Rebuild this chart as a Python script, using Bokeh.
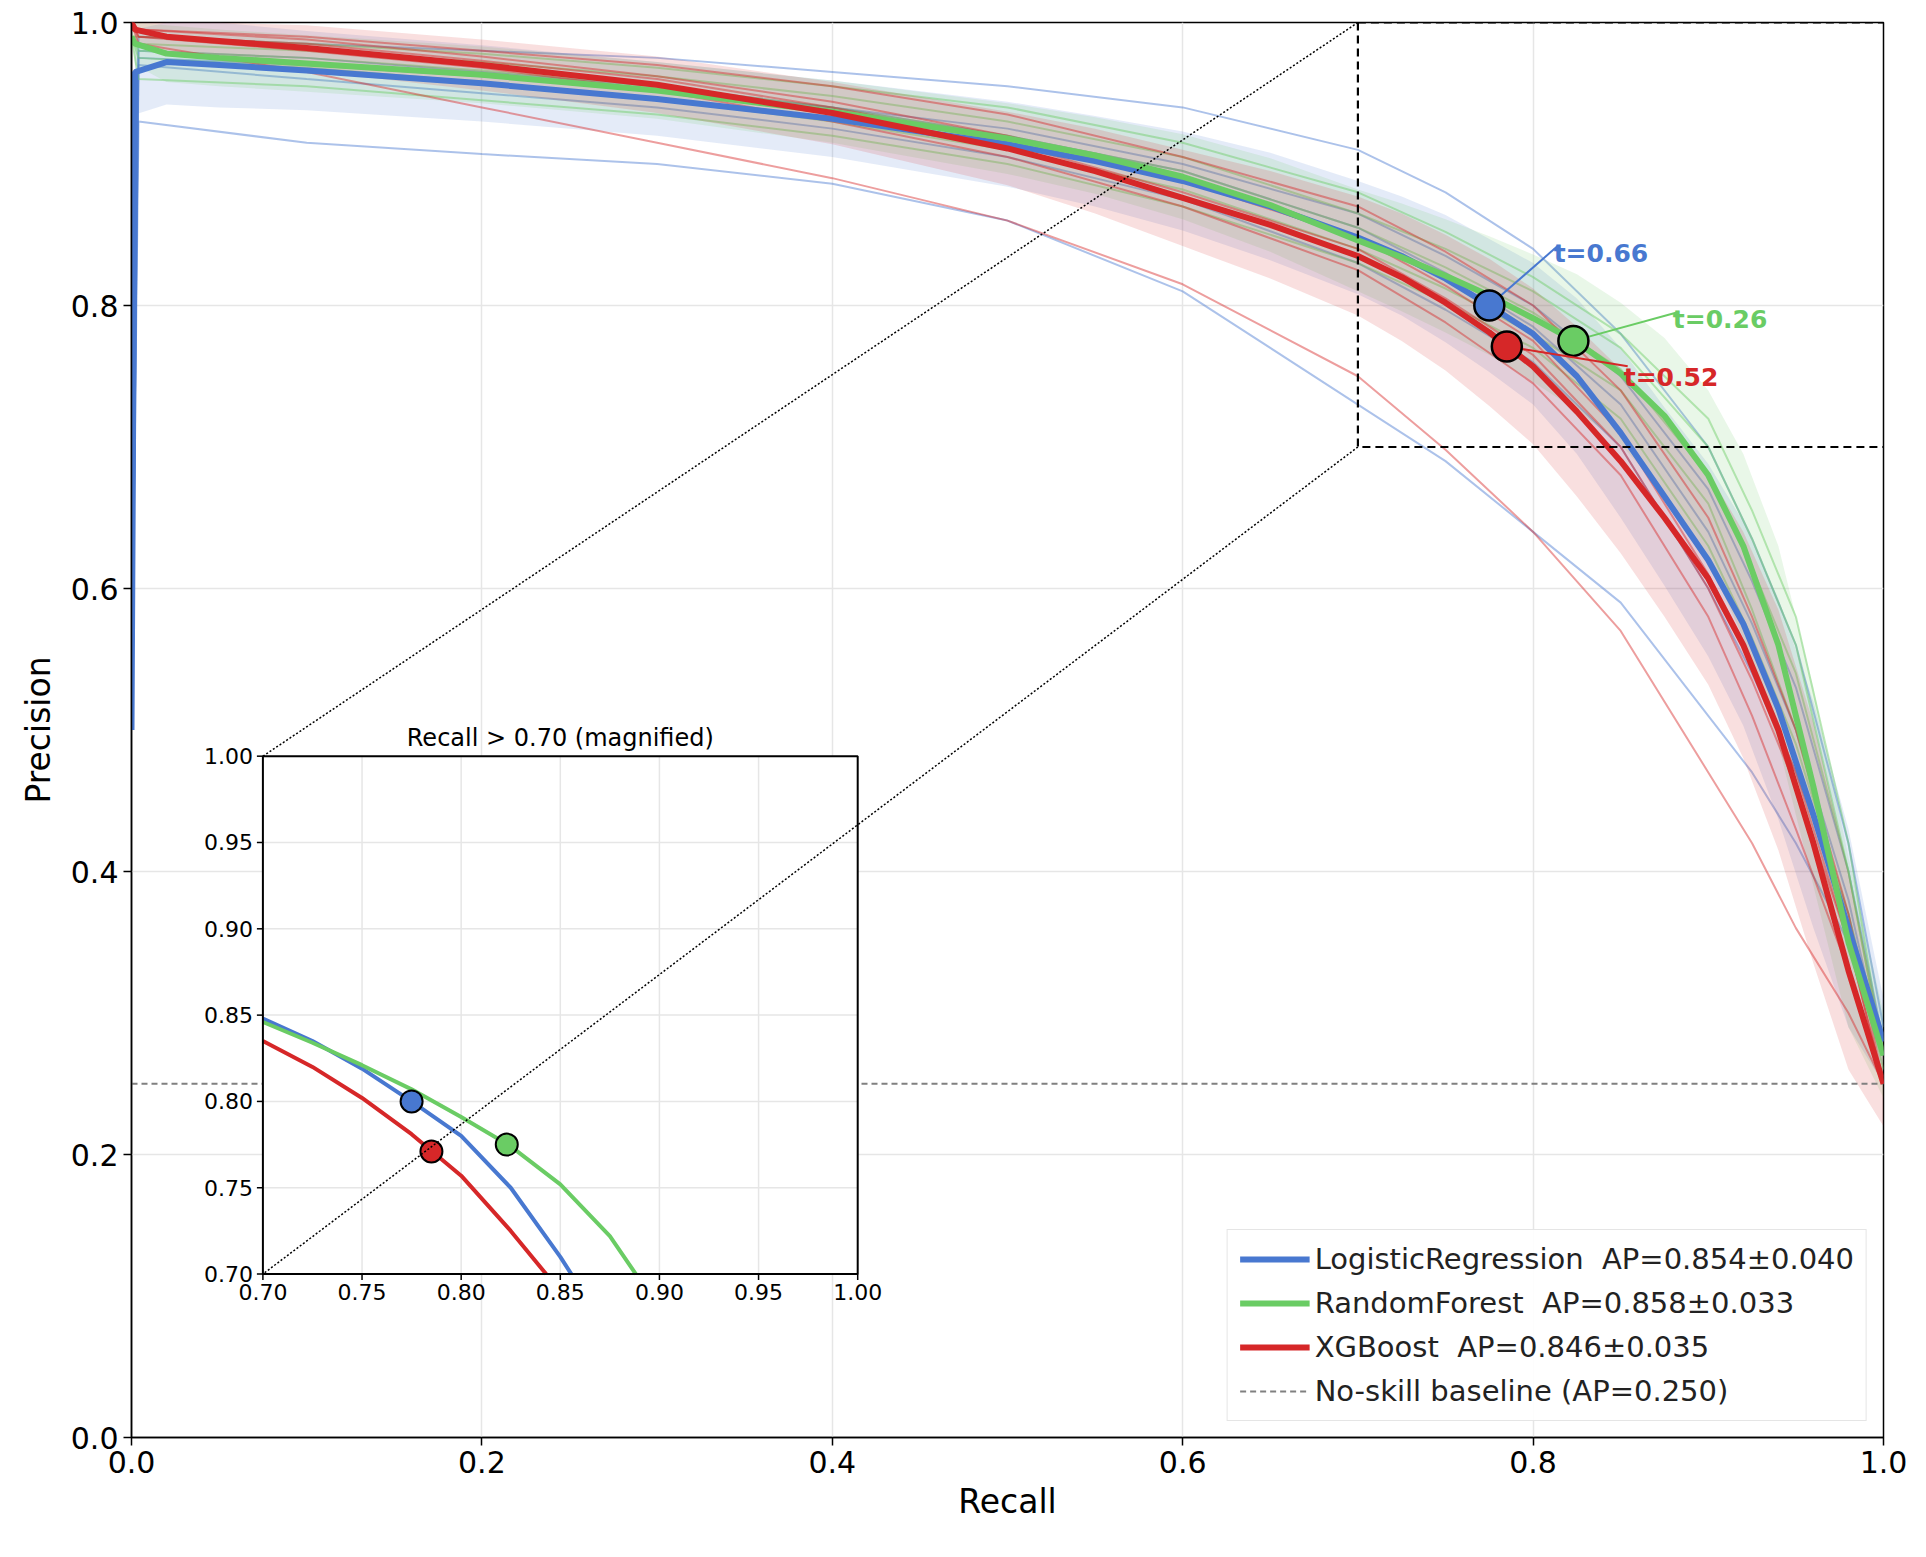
import numpy as np
from bokeh.plotting import figure
from bokeh.models import Legend, LegendItem, FixedTicker, PrintfTickFormatter
from bokeh.core.properties import value
from bokeh.embed import file_html
from bokeh.resources import INLINE

# ---------------- data ----------------
recall = [0, 0.002, 0.02, 0.05, 0.1, 0.2, 0.3, 0.4, 0.5, 0.55, 0.6, 0.65, 0.7, 0.725, 0.75,
          0.775, 0.8, 0.825, 0.85, 0.875, 0.9, 0.92, 0.94, 0.96, 0.98, 0.99, 1.0]
lr_mean = [0.5, 0.965, 0.972, 0.970, 0.966, 0.957, 0.946, 0.932, 0.914, 0.902, 0.888, 0.870, 0.848,
           0.835, 0.819, 0.800, 0.780, 0.750, 0.710, 0.665, 0.62, 0.575, 0.515, 0.44, 0.36, 0.32, 0.28]
rf_mean = [0.99, 0.985, 0.978, 0.975, 0.971, 0.963, 0.952, 0.937, 0.918, 0.906, 0.891, 0.871, 0.846,
           0.834, 0.821, 0.807, 0.791, 0.774, 0.752, 0.722, 0.68, 0.63, 0.56, 0.46, 0.35, 0.31, 0.27]
xgb_mean = [1.0, 0.995, 0.99, 0.987, 0.982, 0.97, 0.956, 0.936, 0.911, 0.895, 0.876, 0.857, 0.835,
            0.82, 0.802, 0.781, 0.757, 0.725, 0.69, 0.65, 0.607, 0.56, 0.5, 0.42, 0.33, 0.29, 0.25]
lr_std = [0, 0.03, 0.03, 0.03, 0.028, 0.027, 0.026, 0.027, 0.03, 0.032, 0.035, 0.038, 0.04, 0.042,
          0.045, 0.047, 0.05, 0.055, 0.06, 0.063, 0.068, 0.072, 0.078, 0.08, 0.07, 0.05, 0.03]
rf_std = [0, 0.015, 0.02, 0.02, 0.02, 0.02, 0.02, 0.022, 0.025, 0.027, 0.03, 0.033, 0.036, 0.038,
          0.04, 0.042, 0.045, 0.048, 0.05, 0.055, 0.06, 0.065, 0.07, 0.07, 0.06, 0.045, 0.03]
xgb_std = [0, 0.01, 0.012, 0.014, 0.016, 0.018, 0.02, 0.022, 0.026, 0.03, 0.034, 0.038, 0.042, 0.045,
           0.048, 0.052, 0.055, 0.06, 0.065, 0.07, 0.075, 0.08, 0.085, 0.085, 0.07, 0.05, 0.03]

fold_recall = [0, 0.004, 0.1, 0.2, 0.3, 0.4, 0.5, 0.6, 0.7, 0.75, 0.8, 0.85, 0.9, 0.925, 0.95, 0.98, 1.0]
lr_folds = [
    [0.5, 0.93, 0.915, 0.907, 0.9, 0.886, 0.86, 0.81, 0.73, 0.69, 0.64, 0.59, 0.51, 0.47, 0.42, 0.35, 0.27],
    [0.5, 0.99, 0.985, 0.98, 0.975, 0.965, 0.955, 0.94, 0.91, 0.88, 0.84, 0.78, 0.7, 0.635, 0.56, 0.42, 0.29],
    [0.5, 0.975, 0.97, 0.962, 0.952, 0.94, 0.92, 0.895, 0.855, 0.823, 0.785, 0.73, 0.64, 0.575, 0.5, 0.38, 0.27],
    [0.5, 0.98, 0.975, 0.965, 0.955, 0.94, 0.925, 0.9, 0.865, 0.835, 0.8, 0.75, 0.67, 0.605, 0.53, 0.4, 0.28],
    [0.5, 0.97, 0.96, 0.95, 0.94, 0.925, 0.905, 0.875, 0.83, 0.797, 0.76, 0.7, 0.6, 0.54, 0.47, 0.37, 0.27],
]
rf_folds = [
    [0.99, 0.96, 0.955, 0.945, 0.935, 0.92, 0.9, 0.87, 0.83, 0.802, 0.77, 0.72, 0.63, 0.565, 0.49, 0.37, 0.27],
    [0.99, 0.99, 0.985, 0.978, 0.968, 0.955, 0.94, 0.915, 0.88, 0.852, 0.82, 0.78, 0.72, 0.655, 0.58, 0.42, 0.27],
    [0.99, 0.98, 0.975, 0.966, 0.955, 0.94, 0.92, 0.895, 0.855, 0.827, 0.795, 0.755, 0.68, 0.615, 0.54, 0.4, 0.27],
    [0.99, 0.975, 0.968, 0.958, 0.946, 0.93, 0.91, 0.882, 0.84, 0.812, 0.78, 0.74, 0.66, 0.585, 0.5, 0.36, 0.26],
    [0.99, 0.985, 0.98, 0.972, 0.962, 0.948, 0.93, 0.905, 0.865, 0.84, 0.81, 0.77, 0.7, 0.635, 0.56, 0.4, 0.27],
]
xgb_folds = [
    [1.0, 0.985, 0.965, 0.94, 0.915, 0.89, 0.86, 0.815, 0.75, 0.698, 0.64, 0.57, 0.47, 0.42, 0.36, 0.3, 0.25],
    [1.0, 0.995, 0.99, 0.98, 0.97, 0.955, 0.935, 0.905, 0.87, 0.838, 0.8, 0.74, 0.65, 0.58, 0.5, 0.37, 0.25],
    [1.0, 0.99, 0.985, 0.973, 0.96, 0.94, 0.915, 0.88, 0.84, 0.805, 0.765, 0.7, 0.6, 0.535, 0.46, 0.35, 0.25],
    [1.0, 0.995, 0.988, 0.976, 0.962, 0.944, 0.92, 0.888, 0.848, 0.814, 0.775, 0.71, 0.61, 0.545, 0.47, 0.35, 0.25],
    [1.0, 0.99, 0.98, 0.968, 0.952, 0.93, 0.905, 0.87, 0.825, 0.788, 0.745, 0.68, 0.58, 0.51, 0.43, 0.33, 0.25],
]
model_names = ["LogisticRegression", "RandomForest", "XGBoost"]
ap_mean = [0.854, 0.858, 0.846]
ap_std = [0.040, 0.033, 0.035]
op_recall = [0.775, 0.823, 0.785]
op_precision = [0.800, 0.775, 0.771]
op_threshold = [0.66, 0.26, 0.52]
label_pos = [(0.814, 0.837), (0.882, 0.79), (0.854, 0.749)]
baseline = 0.25
main_ticks = [0.0, 0.2, 0.4, 0.6, 0.8, 1.0]
inset_ticks = [0.70, 0.75, 0.80, 0.85, 0.90, 0.95, 1.00]
inset_title = "Recall > 0.70 (magnified)"

colors = ["#4878d0", "#6acc64", "#d62728"]
means = [lr_mean, rf_mean, xgb_mean]
stds = [lr_std, rf_std, xgb_std]
folds = [lr_folds, rf_folds, xgb_folds]
FONT = "DejaVu Sans"

FW, FH = 1752, 1415
p = figure(frame_width=FW, frame_height=FH, output_backend="svg", toolbar_location=None,
           x_range=(0, 1), y_range=(0, 1), min_border_left=131, min_border_top=22,
           min_border_bottom=104, min_border_right=27)
p.outline_line_color = "black"
p.outline_line_width = 1.5
for ax in (p.xaxis, p.yaxis):
    ax.ticker = FixedTicker(ticks=main_ticks)
    ax.formatter = PrintfTickFormatter(format="%.1f")
    ax.major_label_text_font_size = "30px"
    ax.major_label_text_font = FONT
    ax.major_label_text_color = "black"
    ax.axis_label_text_font_size = "33px"
    ax.axis_label_text_font = FONT
    ax.axis_label_text_font_style = "normal"
    ax.axis_label_text_color = "black"
    ax.minor_tick_line_color = None
    ax.major_tick_out = 8
    ax.major_tick_in = 0
    ax.axis_line_width = 1.5
    ax.major_tick_line_width = 1.5
p.xaxis.axis_label = "Recall"
p.yaxis.axis_label = "Precision"
p.xaxis.axis_label_standoff = 6
p.yaxis.axis_label_standoff = 10
p.grid.grid_line_color = "#e6e6e6"
p.grid.grid_line_width = 1.5

R = np.array(recall)
for c, m, s, fl in zip(colors, means, stds, folds):
    m = np.array(m); s = np.array(s)
    p.varea(x=R, y1=np.clip(m - s, 0, 1), y2=np.clip(m + s, 0, 1), fill_color=c, fill_alpha=0.15)
    for f in fl:
        p.line(fold_recall, f, line_color=c, line_width=2, line_alpha=0.45)

base_r = p.line([0, 1], [baseline, baseline], line_color="gray", line_dash="6 4", line_width=1.8)

mean_renderers = []
for c, m in zip(colors, means):
    mean_renderers.append(p.line(recall, m, line_color=c, line_width=6))

# zoom box
p.line([0.7, 0.7, 1.0], [1.0, 0.7, 0.7], line_color="black", line_dash="8 5", line_width=2.2)
p.line([0.7, 1.0], [1.0, 1.0], line_color="black", line_dash="8 5", line_width=2.2)

# operating points
for c, r, pr, t, (lx, ly) in zip(colors, op_recall, op_precision, op_threshold, label_pos):
    p.line([r, lx], [pr, ly + 0.005 if ly > pr else ly + 0.008], line_color=c, line_width=2)
    p.scatter([r], [pr], size=30, fill_color=c, line_color="black", line_width=2.5)
    p.text([lx], [ly], text=[f"t={t:.2f}"], text_color=c, text_font=value(FONT),
           text_font_style="bold", text_font_size="25px", text_baseline="middle", text_align="left",
           x_offset=-4)

# ---------------- inset ----------------
X0, X1, Y0, Y1 = 0.075, 0.4145, 0.1155, 0.4815
def ix(r):
    return X0 + (np.asarray(r) - 0.7) / 0.3 * (X1 - X0)
def iy(v):
    return Y0 + (np.asarray(v) - 0.7) / 0.3 * (Y1 - Y0)

p.quad(left=X0, right=X1, bottom=Y0, top=Y1, fill_color="white", line_color=None)
for t in inset_ticks[1:-1]:
    p.line([ix(t), ix(t)], [Y0, Y1], line_color="#e6e6e6", line_width=1.5)
    p.line([X0, X1], [iy(t), iy(t)], line_color="#e6e6e6", line_width=1.5)

for c, m in zip(colors, means):
    xs, ys = [], []
    for i in range(len(recall)):
        if recall[i] >= 0.7 and m[i] >= 0.7:
            xs.append(recall[i]); ys.append(m[i])
        elif recall[i] >= 0.7 and m[i] < 0.7 and xs:
            r0, p0 = recall[i - 1], m[i - 1]
            fr = (p0 - 0.7) / (p0 - m[i])
            xs.append(r0 + fr * (recall[i] - r0)); ys.append(0.7)
            break
    p.line(ix(xs), iy(ys), line_color=c, line_width=4)
for c, r, pr in zip(colors, op_recall, op_precision):
    p.scatter([ix(r)], [iy(pr)], size=22, fill_color=c, line_color="black", line_width=2)

p.quad(left=X0, right=X1, bottom=Y0, top=Y1, fill_color=None, line_color="black", line_width=2)
tx = 6 / FW
ty = 6 / FH
for t in inset_ticks:
    p.line([ix(t), ix(t)], [Y0, Y0 - ty], line_color="black", line_width=1.5)
    p.line([X0, X0 - tx], [iy(t), iy(t)], line_color="black", line_width=1.5)
p.text(ix(inset_ticks), [Y0] * 7, text=[f"{t:.2f}" for t in inset_ticks], text_font=value(FONT),
       text_font_size="22px", text_align="center", text_baseline="top", y_offset=10, text_color="black")
p.text([X0] * 7, iy(inset_ticks), text=[f"{t:.2f}" for t in inset_ticks], text_font=value(FONT),
       text_font_size="22px", text_align="right", text_baseline="middle", x_offset=-10, text_color="black")
p.text([(X0 + X1) / 2], [Y1], text=[inset_title], text_font=value(FONT), text_font_size="24px",
       text_align="center", text_baseline="bottom", y_offset=-4, text_color="black")

# connectors
p.line([0.7, X0], [1.0, Y1], line_color="black", line_dash="2 2", line_width=1.5)
p.line([0.7, X0], [0.7, Y0], line_color="black", line_dash="2 2", line_width=1.5)

items = [LegendItem(label=f"{n}  AP={a:.3f}±{s:.3f}", renderers=[r])
         for n, a, s, r in zip(model_names, ap_mean, ap_std, mean_renderers)]
items.append(LegendItem(label=f"No-skill baseline (AP={baseline:.3f})", renderers=[base_r]))
leg = Legend(items=items, location="bottom_right", label_text_font=FONT, label_text_font_size="29px",
             label_text_color="#222222",
             glyph_width=70, glyph_height=34, spacing=10, padding=12, margin=16,
             border_line_color="#cccccc", border_line_width=1.5, background_fill_alpha=0.9)
p.add_layout(leg)

open("out.html", "w").write(file_html(p, INLINE))
